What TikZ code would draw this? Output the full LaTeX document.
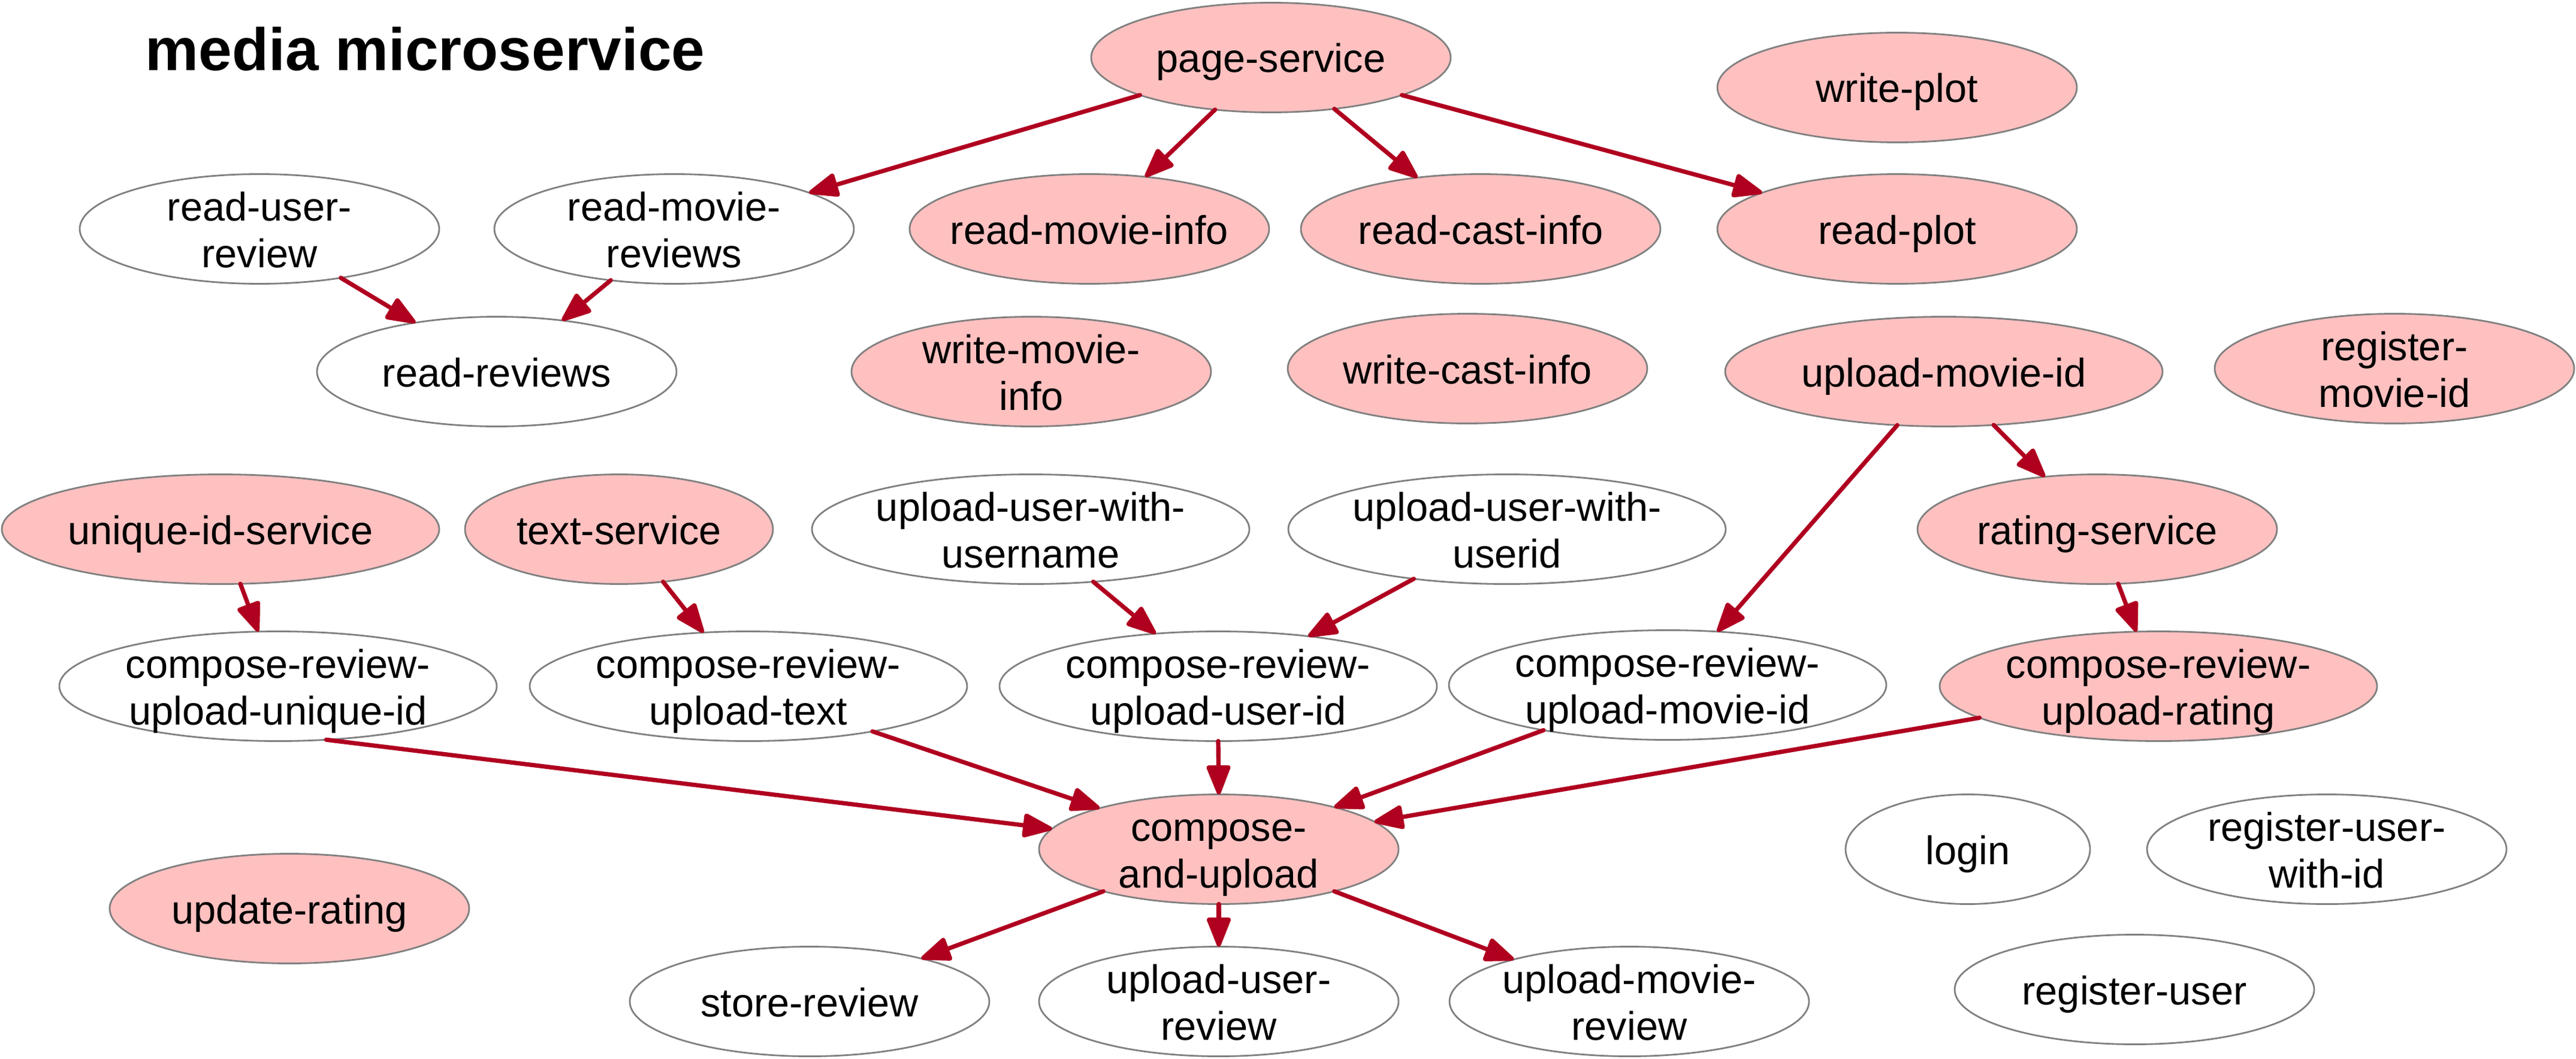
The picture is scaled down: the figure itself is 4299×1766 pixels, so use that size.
\documentclass[tikz,border=0pt]{standalone}
\usepackage{fontspec}
\setmainfont{Liberation Sans}
\usetikzlibrary{arrows.meta,shapes.geometric}
\definecolor{edgered}{RGB}{176,0,32}
\definecolor{pinkfill}{RGB}{255,192,192}
\definecolor{bordergray}{RGB}{128,128,128}
\tikzset{
  svc/.style={ellipse, draw=bordergray, line width=0.7pt, minimum height=45.75pt, inner sep=0pt, outer sep=0pt},
  pk/.style={fill=pinkfill},
  wh/.style={fill=white},
  lbl/.style={anchor=base, inner sep=0pt, font=\fontsize{16.7pt}{20pt}\selectfont},
  edge/.style={draw=edgered, line width=1.8pt, line cap=round, -{Triangle[length=13.8pt,width=10.4pt,round=false]}},
}
\newcommand\svcA[6]{%
  \node[svc,#5,minimum width=#4*0.5pt] (#1) at (#2,#3) {};
  \node[lbl] (#1-a) at (#2,#3+25) {#6};}
\newcommand\svcB[7]{%
  \node[svc,#5,minimum width=#4*0.5pt] (#1) at (#2,#3) {};
  \node[lbl] (#1-a) at (#2,#3-14) {#6};
  \node[lbl] (#1-b) at (#2,#3+64) {#7};}
\begin{document}
\begin{tikzpicture}[x=0.25pt,y=-0.25pt]
\useasboundingbox (0,0) rectangle (4299,1766);
\node[anchor=base west, inner sep=0pt, font=\bfseries\fontsize{25pt}{30pt}\selectfont] (title) at (242,118) {media microservice};

\svcA{ps}{2121}{96}{300}{pk}{page-service}
\svcA{wp}{3166}{146}{300}{pk}{write-plot}
\svcB{rur}{433}{382}{300}{wh}{read-user-}{review}
\svcB{rmr}{1125}{382}{300}{wh}{read-movie-}{reviews}
\svcA{rmi}{1818}{382}{300}{pk}{read-movie-info}
\svcA{rci}{2471}{382}{300}{pk}{read-cast-info}
\svcA{rp}{3166}{382}{300}{pk}{read-plot}
\svcA{rr}{829}{620}{300}{wh}{read-reviews}
\svcB{wmi}{1721}{620}{300}{pk}{write-movie-}{info}
\svcA{wci}{2449}{615}{300}{pk}{write-cast-info}
\svcA{umi}{3244}{620}{365}{pk}{upload-movie-id}
\svcB{rmid}{3996}{615}{300}{pk}{register-}{movie-id}
\svcA{uis}{368}{883}{365}{pk}{unique-id-service}
\svcA{ts}{1033}{883}{257}{pk}{text-service}
\svcB{uuu}{1720}{883}{365}{wh}{upload-user-with-}{username}
\svcB{uui}{2515}{883}{365}{wh}{upload-user-with-}{userid}
\svcA{rs}{3500}{883}{300}{pk}{rating-service}
\svcB{cru}{464}{1145}{365}{wh}{compose-review-}{upload-unique-id}
\svcB{crt}{1249}{1145}{365}{wh}{compose-review-}{upload-text}
\svcB{crid}{2033}{1145}{365}{wh}{compose-review-}{upload-user-id}
\svcB{crm}{2783}{1143}{365}{wh}{compose-review-}{upload-movie-id}
\svcB{crr}{3602}{1145}{365}{pk}{compose-review-}{upload-rating}
\svcB{cau}{2034}{1417}{300}{pk}{compose-}{and-upload}
\svcA{ur}{483}{1516}{300}{pk}{update-rating}
\svcA{login}{3284}{1417}{204}{wh}{login}
\svcB{ruwi}{3883}{1417}{300}{wh}{register-user-}{with-id}
\svcA{sr}{1351}{1671}{300}{wh}{store-review}
\svcB{uur}{2034}{1671}{300}{wh}{upload-user-}{review}
\svcB{umr}{2719}{1671}{300}{wh}{upload-movie-}{review}
\svcA{ru}{3562}{1651}{300}{wh}{register-user}

\draw[edge] (ps.196) -- (rmr.15);
\draw[edge] (ps.223) -- (rmi.43);
\draw[edge] (ps.321) -- (rci.141);
\draw[edge] (ps.344) -- (rp.165);
\draw[edge] (rur.329) -- (rr.149);
\draw[edge] (rmr.219) -- (rr.38);
\draw[edge] (uis.290) -- (cru.110);
\draw[edge] (ts.310) -- (crt.130);
\draw[edge] (uuu.320) -- (crid.140);
\draw[edge] (uui.208) -- (crid.29);
\draw[edge] (umi.229) -- (crm.47);
\draw[edge] (umi.313) -- (rs.135);
\draw[edge] (rs.291) -- (crr.112);
\draw[edge] (cru.312) -- (cau.173);
\draw[edge] (crt.340) -- (cau.161);
\draw[edge] (crid.270) -- (cau.90);
\draw[edge] (crm.200) -- (cau.20);
\draw[edge] (crr.190) -- (cau.10);
\draw[edge] (cau.200) -- (sr.21);
\draw[edge] (cau.270) -- (uur.90);
\draw[edge] (cau.340) -- (umr.160);
\end{tikzpicture}
\end{document}
